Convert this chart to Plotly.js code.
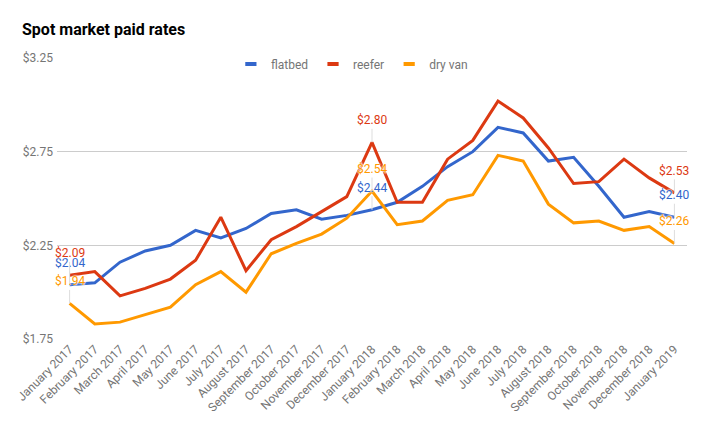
<!DOCTYPE html>
<html>
<head>
<meta charset="utf-8">
<script src="https://cdn.plot.ly/plotly-3.0.1.min.js"></script>
<style>html,body{margin:0;padding:0;background:#fff;}#chart{width:706px;height:433px;}</style>
</head>
<body>
<div id="chart"></div>
<script>
const months = ["January 2017","February 2017","March 2017","April 2017","May 2017","June 2017","July 2017","August 2017","September 2017","October 2017","November 2017","December 2017","January 2018","February 2018","March 2018","April 2018","May 2018","June 2018","July 2018","August 2018","September 2018","October 2018","November 2018","December 2018","January 2019"];
const flatbed = [2.04,2.05,2.16,2.22,2.25,2.33,2.29,2.34,2.42,2.44,2.39,2.41,2.44,2.48,2.565,2.67,2.75,2.88,2.85,2.70,2.72,2.565,2.40,2.43,2.40];
const reefer  = [2.09,2.11,1.98,2.02,2.07,2.17,2.40,2.115,2.28,2.35,2.43,2.51,2.80,2.48,2.48,2.71,2.81,3.02,2.93,2.77,2.58,2.59,2.71,2.61,2.53];
const dryVan  = [1.94,1.83,1.84,1.88,1.92,2.04,2.11,2.00,2.205,2.26,2.31,2.395,2.54,2.36,2.38,2.49,2.52,2.73,2.70,2.47,2.37,2.38,2.33,2.35,2.26];
const seriesNames = ["flatbed","reefer","dry van"];
const seriesColors = ["#3366CC","#DC3912","#FF9900"];
const labelIdx = [0,12,24];
const yTicks = [1.75,2.25,2.75,3.25];

const allSeries = [flatbed, reefer, dryVan];
const traces = [];
allSeries.forEach((vals,i)=>{
  traces.push({x:months,y:vals,type:'scatter',mode:'lines',name:seriesNames[i],
    line:{color:seriesColors[i],width:3},showlegend:false,hoverinfo:'skip'});
});
allSeries.forEach((vals,i)=>{
  traces.push({x:[null],y:[null],type:'scatter',mode:'markers',name:seriesNames[i],
    marker:{symbol:'line-ew-open',size:8,color:seriesColors[i],line:{color:seriesColors[i],width:4}},showlegend:true});
});

const annotations = [];
allSeries.forEach((vals,i)=>{
  labelIdx.forEach(k=>{
    annotations.push({x:months[k],y:vals[k],xref:'x',yref:'y',text:'$'+vals[k].toFixed(2),
      showarrow:true,ax:0,ay:-22,arrowhead:0,arrowwidth:1,arrowcolor:'#dddddd',standoff:0,
      font:{family:'Roboto',size:12,color:seriesColors[i],shadow:'0 0 2px #fff, 0 0 2px #fff, 0 0 2px #fff'}});
  });
});

const layout = {
  width:706,height:433,
  margin:{l:57,r:19,t:58,b:94},
  paper_bgcolor:'#fff',plot_bgcolor:'#fff',
  font:{family:'Roboto',size:12,color:'#757575'},
  title:{text:'Spot market paid rates',x:22/706,xanchor:'left',xref:'container',y:1-29/433,yanchor:'middle',yref:'container',
    font:{family:'Roboto',size:16,weight:700,color:'#000'}},
  xaxis:{type:'category',range:[-0.5,24.5],tickangle:-45,showgrid:false,showline:false,zeroline:false,ticks:'',
    tickfont:{family:'Roboto',size:12,color:'#757575'}},
  yaxis:{range:[1.75,3.25],tickvals:yTicks,ticktext:yTicks.map(v=>'$'+v.toFixed(2)),showgrid:true,gridcolor:'#cccccc',
    zeroline:false,showline:false,ticks:'',ticklabelstandoff:3,tickfont:{family:'Roboto',size:12,color:'#757575'}},
  legend:{orientation:'h',x:0.276,xanchor:'left',y:0.9786,yanchor:'middle',bgcolor:'rgba(0,0,0,0)',
    font:{family:'Roboto',size:12,color:'#757575'},itemwidth:30,tracegroupgap:0},
  annotations:annotations,
  showlegend:true
};
Plotly.newPlot('chart',traces,layout,{displayModeBar:false,staticPlot:true});
</script>
</body>
</html>
